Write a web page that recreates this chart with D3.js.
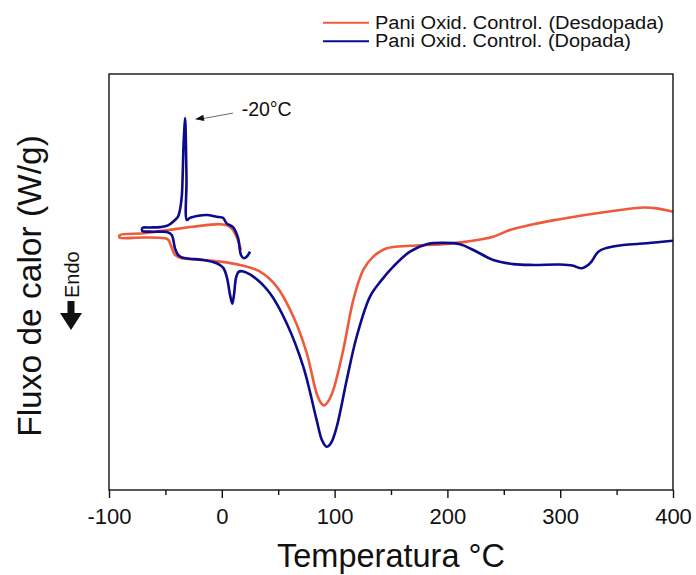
<!DOCTYPE html>
<html>
<head>
<meta charset="utf-8">
<script src="https://cdn.jsdelivr.net/npm/d3@7"></script>
<style>
  html, body { margin: 0; padding: 0; background: #fff; }
  svg { display: block; font-family: "Liberation Sans", Arial, sans-serif; }
</style>
</head>
<body>
<svg id="chart" width="696" height="575"></svg>
<script>
// Temperatura (°C) e fluxo de calor (unidades arbitrárias)
const dopadaT = [25.0, 22.5, 19.5, 17.0, 14.4, 9.9, 4.3, 1.1, -4.5, -13.4, -19.3, -28.2, -30.9,
  -31.3, -32.2, -32.6, -33.5, -34.1, -34.8, -35.5, -37.1, -38.8, -41.5, -47.7, -54.8, -63.7, -70.3,
  -70.5, -63.7, -54.8, -48.6, -44.4, -41.5, -38.8, -35.3, -28.2, -16.4, -4.5, 1.3, 4.6, 7.3, 9.3,
  10.8, 12.6, 14.8, 17.9, 27.9, 42.7, 57.5, 72.3, 84.1, 88.8, 93.0, 96.8, 101.9, 110.7, 119.6,
  131.4, 141.8, 152.0, 166.8, 181.6, 196.4, 211.2, 223.0, 240.7, 258.4, 276.2, 299.8, 311.6,
  319.1, 326.5, 333.8, 341.2, 355.9, 376.7, 400.0];
const dopadaV = [5.73, 5.62, 5.57, 5.65, 6.06, 6.32, 6.41, 6.54, 6.57, 6.61, 6.60, 6.54, 6.49,
  7.45, 8.77, 8.94, 8.53, 8.17, 7.45, 7.05, 6.73, 6.57, 6.49, 6.36, 6.32, 6.31, 6.30,
  6.23, 6.21, 6.21, 6.20, 6.13, 5.81, 5.65, 5.59, 5.56, 5.53, 5.45, 5.34, 5.10, 4.69, 4.48,
  4.69, 5.10, 5.24, 5.26, 5.13, 4.73, 4.01, 2.96, 1.68, 1.20, 1.04, 1.13, 1.52, 2.64, 3.69,
  4.65, 5.05, 5.37, 5.73, 5.91, 5.94, 5.91, 5.77, 5.53, 5.43, 5.41, 5.42, 5.39,
  5.33, 5.45, 5.73, 5.82, 5.89, 5.93, 5.99];

const desdopadaT = [17.0, 13.5, 9.9, 5.8, -1.6, -25.3, -47.4, -69.6, -90.2,
  -90.7, -69.6, -50.4, -47.3, -45.0, -41.5, -35.5, -22.3, -1.6, 16.1, 33.9, 48.7, 63.4, 75.3,
  84.1, 88.0, 90.6, 94.1, 98.8, 107.7, 116.6, 125.4, 134.3, 146.2, 166.8, 196.4, 217.1, 240.7,
  255.5, 276.2, 299.8, 326.4, 353.0, 373.7, 385.6, 400.0];
const desdopadaV = [5.77, 6.06, 6.25, 6.35, 6.39, 6.33, 6.25, 6.17, 6.13,
  6.07, 6.07, 6.05, 6.01, 5.87, 5.65, 5.57, 5.54, 5.49, 5.41, 5.25, 4.89, 4.17, 3.29,
  2.32, 2.09, 2.03, 2.12, 2.40, 3.37, 4.57, 5.29, 5.61, 5.81, 5.87, 5.91, 5.97, 6.09,
  6.25, 6.39, 6.51, 6.63, 6.73, 6.79, 6.77, 6.69];

const xTicks = [-100, 0, 100, 200, 300, 400];
const xMinorTicks = [-50, 50, 150, 250, 350];
const seriesNames = ["Pani Oxid. Control. (Desdopada)", "Pani Oxid. Control. (Dopada)"];
const seriesColors = ["#ee5a3c", "#0b0b8c"];

const margin = { top: 74, right: 23, bottom: 85, left: 109 };
const width = 696, height = 575;
const svg = d3.select("#chart");

const x = d3.scaleLinear().domain([-100, 400]).range([margin.left, width - margin.right]);
const y = d3.scaleLinear().domain([0, 10]).range([height - margin.bottom, margin.top]);

const line = d3.line()
  .x((d) => x(d[0]))
  .y((d) => y(d[1]))
  .curve(d3.curveCatmullRom.alpha(0.5));

const series = [
  d3.zip(desdopadaT, desdopadaV),
  d3.zip(dopadaT, dopadaV)
];

series.forEach((pts, i) => {
  svg.append("path")
    .attr("d", line(pts))
    .attr("fill", "none")
    .attr("stroke", seriesColors[i])
    .attr("stroke-width", 2.6)
    .attr("stroke-linejoin", "round");
});

// moldura
svg.append("rect")
  .attr("x", margin.left)
  .attr("y", margin.top)
  .attr("width", width - margin.left - margin.right)
  .attr("height", height - margin.top - margin.bottom)
  .attr("fill", "none")
  .attr("stroke", "#111")
  .attr("stroke-width", 1.4);

// eixo x
const axisY = height - margin.bottom;
const xAxis = svg.append("g")
  .attr("transform", `translate(0,${axisY})`)
  .call(d3.axisBottom(x).tickValues(xTicks).tickSize(8).tickPadding(10).tickFormat((d) => String(d)));
xAxis.select(".domain").remove();
xAxis.selectAll(".tick line").attr("stroke", "#111").attr("stroke-width", 1.4);
xAxis.selectAll(".tick text")
  .attr("font-size", 22)
  .attr("font-family", "Liberation Sans, Arial, sans-serif")
  .attr("fill", "#111");

const xMinor = svg.append("g")
  .attr("transform", `translate(0,${axisY})`)
  .call(d3.axisBottom(x).tickValues(xMinorTicks).tickSize(5).tickFormat(""));
xMinor.select(".domain").remove();
xMinor.selectAll(".tick line").attr("stroke", "#111").attr("stroke-width", 1.4);

// títulos
svg.append("text")
  .attr("x", (margin.left + width - margin.right) / 2)
  .attr("y", 567)
  .attr("text-anchor", "middle")
  .attr("font-size", 32.5)
  .attr("fill", "#111")
  .text("Temperatura °C");

svg.append("text")
  .attr("transform", "translate(41,286) rotate(-90)")
  .attr("text-anchor", "middle")
  .attr("font-size", 33.5)
  .attr("fill", "#111")
  .text("Fluxo de calor (W/g)");

svg.append("text")
  .attr("transform", "translate(79,298) rotate(-90)")
  .attr("font-size", 20)
  .attr("fill", "#111")
  .text("Endo");

// seta Endo
svg.append("path")
  .attr("d", "M67.5,301 L74.5,301 L74.5,313 L82,313 L71,330 L60,313 L67.5,313 Z")
  .attr("fill", "#111");

// anotação -20°C
const tip = [-23.8, 8.91], tail = [9.9, 9.06];
svg.append("line")
  .attr("x1", x(tail[0])).attr("y1", y(tail[1]))
  .attr("x2", x(tip[0]) + 6).attr("y2", y(tip[1]) - 0.4)
  .attr("stroke", "#444")
  .attr("stroke-width", 0.8);
const ang = Math.atan2(y(tail[1]) - y(tip[1]), x(tail[0]) - x(tip[0]));
const hx = x(tip[0]), hy = y(tip[1]), L = 9, W = 3.2;
const bx = hx + L * Math.cos(ang), by = hy + L * Math.sin(ang);
svg.append("path")
  .attr("d", `M${hx},${hy} L${bx - W * Math.sin(ang)},${by + W * Math.cos(ang)} L${bx + W * Math.sin(ang)},${by - W * Math.cos(ang)} Z`)
  .attr("fill", "#111");
svg.append("text")
  .attr("x", x(17.6))
  .attr("y", y(9.01) + 1)
  .attr("font-size", 19.5)
  .attr("fill", "#111")
  .text("-20°C");

// legenda
const legend = svg.append("g");
seriesNames.forEach((name, i) => {
  const ly = 22.7 + i * 18.5;
  legend.append("line")
    .attr("x1", 323).attr("x2", 369)
    .attr("y1", ly).attr("y2", ly)
    .attr("stroke", seriesColors[i])
    .attr("stroke-width", 2);
  legend.append("text")
    .attr("x", 375)
    .attr("y", ly + 6)
    .attr("font-size", 18)
    .attr("textLength", i === 0 ? 289 : 256)
    .attr("lengthAdjust", "spacingAndGlyphs")
    .attr("fill", "#111")
    .text(name);
});
</script>
</body>
</html>
